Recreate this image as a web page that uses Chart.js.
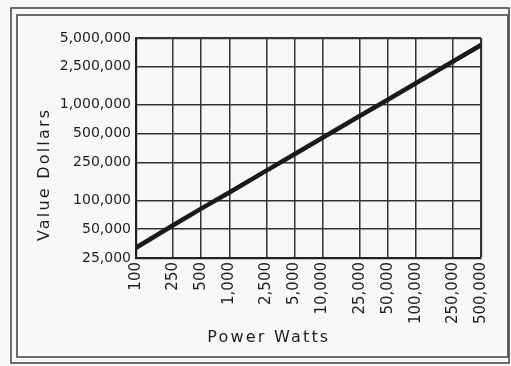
<!DOCTYPE html>
<html>
<head>
<meta charset="utf-8">
<script src="https://cdn.jsdelivr.net/npm/chart.js@4"></script>
<style>
  html, body { margin: 0; padding: 0; background: #f8f8f6; }
  canvas { display: block; }
</style>
</head>
<body>
<canvas id="chart" width="511" height="366"></canvas>
<script>
// Transmitter power (watts) against station value (dollars), log-log.
const powerWatts = [100, 250, 500, 1000, 2500, 5000, 10000, 25000, 50000, 100000, 250000, 500000];
const valueDollars = [32000, 55000, 82000, 121000, 205000, 304000, 452000, 763000, 1130000, 1680000, 2840000, 4220000];
const xTickValues = [100, 250, 500, 1000, 2500, 5000, 10000, 25000, 50000, 100000, 250000, 500000];
const yTickValues = [25000, 50000, 100000, 250000, 500000, 1000000, 2500000, 5000000];
const xTitle = 'Power Watts';
const yTitle = 'Value Dollars';

const FONT = 'DejaVu Sans';
const INK = '#1e1e1e';

// Double frame around the whole figure
const framePlugin = {
  id: 'frame',
  beforeDraw(chart) {
    const ctx = chart.ctx;
    ctx.save();
    ctx.fillStyle = '#f8f8f6';
    ctx.fillRect(0, 0, chart.width, chart.height);
    ctx.strokeStyle = '#4a4a4a';
    ctx.lineWidth = 1.6;
    ctx.strokeRect(11, 8, 498, 355);
    ctx.strokeRect(17, 15, 491, 342);
    ctx.restore();
  }
};

// Letter-spaced axis captions
const captionPlugin = {
  id: 'captions',
  afterDraw(chart) {
    const ctx = chart.ctx;
    const a = chart.chartArea;
    ctx.save();
    ctx.fillStyle = INK;
    ctx.font = '16px "' + FONT + '"';
    ctx.letterSpacing = '2.2px';
    ctx.textAlign = 'center';
    ctx.textBaseline = 'middle';
    ctx.fillText(xTitle, a.left + (a.right - a.left) * 0.385, chart.height - 28);
    ctx.translate(45, a.top + (a.bottom - a.top) * 0.62);
    ctx.rotate(-Math.PI / 2);
    ctx.fillText(yTitle, 0, 0);
    ctx.restore();
  }
};

const fmt = v => Number(v).toLocaleString('en-US');

new Chart(document.getElementById('chart'), {
  type: 'line',
  data: {
    datasets: [{
      data: powerWatts.map((x, i) => ({ x: x, y: valueDollars[i] })),
      borderColor: '#1a1a1a',
      borderWidth: 4.5,
      pointRadius: 0,
      tension: 0,
      fill: false
    }]
  },
  options: {
    responsive: false,
    animation: false,
    layout: { padding: { left: 0, top: 38, right: 30, bottom: 0 } },
    plugins: { legend: { display: false }, tooltip: { enabled: false } },
    scales: {
      x: {
        type: 'logarithmic',
        min: 100,
        max: 500000,
        afterBuildTicks(s) { s.ticks = xTickValues.map(v => ({ value: v })); },
        afterFit(s) { s.height = 108; },
        ticks: {
          autoSkip: false,
          minRotation: 90,
          maxRotation: 90,
          padding: 4,
          color: INK,
          font: { family: FONT, size: 15 },
          callback: fmt
        },
        grid: {
          color: '#333',
          lineWidth: c => (c.tick && c.tick.value === 500000 ? 2.2 : 1.5),
          drawTicks: false
        },
        border: { color: '#222', width: 2.2 }
      },
      y: {
        type: 'logarithmic',
        min: 25000,
        max: 5000000,
        afterBuildTicks(s) { s.ticks = yTickValues.map(v => ({ value: v })); },
        afterFit(s) { s.width = 136; },
        ticks: {
          padding: 5,
          color: INK,
          font: { family: FONT, size: 14 },
          callback: fmt
        },
        grid: {
          color: '#333',
          lineWidth: c => (c.tick && c.tick.value === 5000000 ? 2.2 : 1.5),
          drawTicks: false
        },
        border: { color: '#222', width: 2.2 }
      }
    }
  },
  plugins: [framePlugin, captionPlugin]
});
</script>
</body>
</html>
